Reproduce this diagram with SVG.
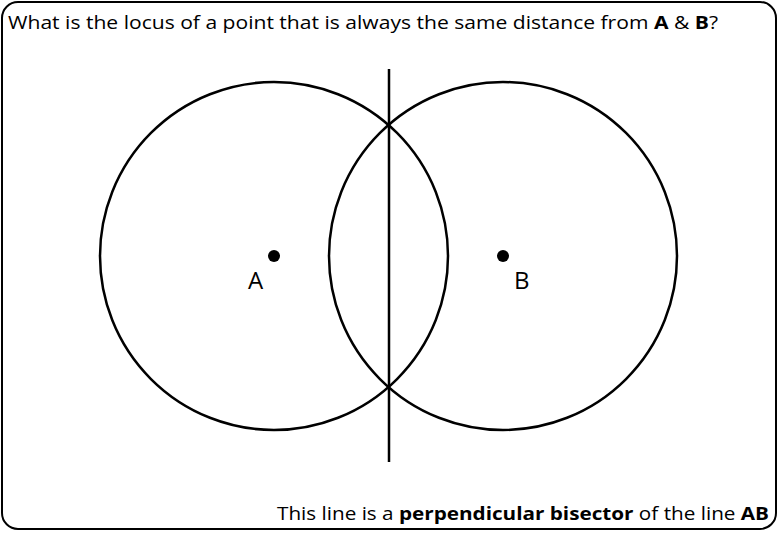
<svg xmlns="http://www.w3.org/2000/svg" width="780" height="540" viewBox="0 0 780 540">
<style>
.t{font-family:"Open Sans","Liberation Sans",sans-serif;font-size:18px;fill:#000}
.big{font-family:"Open Sans","Liberation Sans",sans-serif;font-size:24px;fill:#000}
.c{fill:none;stroke:#000;stroke-width:2.5}
</style>
<rect x="0" y="0" width="780" height="540" fill="#fff"/>
<rect x="2" y="2" width="774" height="527" rx="16" fill="none" stroke="#000" stroke-width="2"/>
<text class="t" x="8" y="29" textLength="710" lengthAdjust="spacingAndGlyphs">What is the locus of a point that is always the same distance from <tspan font-weight="bold">A</tspan> &amp; <tspan font-weight="bold">B</tspan>?</text>
<g id="circleA"><circle class="c" cx="274" cy="256" r="174"/></g>
<g id="circleB"><circle class="c" cx="503" cy="256" r="174"/></g>
<g id="connectors"><line x1="389" y1="69" x2="389" y2="462" stroke="#000" stroke-width="2.5"/></g>
<g id="A"><circle cx="274" cy="256" r="6" fill="#000"/><text class="big" x="248" y="289">A</text></g>
<g id="B"><circle cx="503" cy="256" r="6" fill="#000"/><text class="big" x="514" y="289">B</text></g>
<text class="t" x="277" y="520" textLength="492" lengthAdjust="spacingAndGlyphs">This line is a <tspan font-weight="bold">perpendicular  bisector</tspan> of the line <tspan font-weight="bold">AB</tspan></text>
</svg>
